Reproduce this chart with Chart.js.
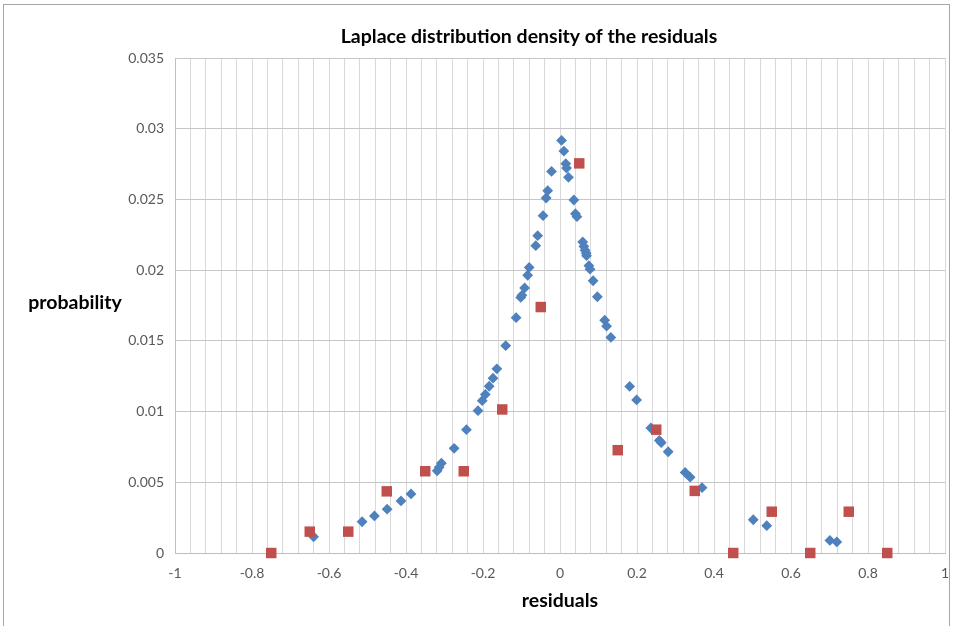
<!DOCTYPE html>
<html><head><meta charset="utf-8">
<script src="https://cdn.jsdelivr.net/npm/chart.js@4"></script>
<style>html,body{margin:0;padding:0;background:#fff;}#wrap{width:953px;height:626px;position:relative;}</style>
</head><body><div id="wrap"><canvas id="c" width="953" height="626"></canvas></div>
<script>
// Blue diamonds: residual values and their Laplace density
const residualX = [-0.640,-0.514,-0.482,-0.449,-0.413,-0.387,-0.319,-0.314,-0.308,-0.275,-0.243,-0.213,-0.202,-0.194,-0.184,-0.174,-0.164,-0.141,-0.114,-0.102,-0.099,-0.092,-0.084,-0.080,-0.063,-0.058,-0.044,-0.036,-0.032,-0.022,0.004,0.010,0.015,0.017,0.022,0.036,0.040,0.044,0.059,0.062,0.065,0.068,0.069,0.075,0.078,0.086,0.097,0.116,0.121,0.132,0.181,0.199,0.236,0.258,0.263,0.281,0.325,0.338,0.369,0.502,0.537,0.701,0.719];
const laplaceY = [0.00115,0.00221,0.00262,0.00310,0.00368,0.00418,0.00581,0.00606,0.00635,0.00740,0.00872,0.01006,0.01077,0.01121,0.01179,0.01236,0.01302,0.01466,0.01664,0.01807,0.01822,0.01874,0.01964,0.02019,0.02173,0.02244,0.02385,0.02510,0.02562,0.02698,0.02917,0.02842,0.02753,0.02722,0.02656,0.02496,0.02399,0.02378,0.02199,0.02168,0.02141,0.02120,0.02102,0.02031,0.02007,0.01925,0.01812,0.01646,0.01604,0.01524,0.01178,0.01082,0.00884,0.00796,0.00780,0.00716,0.00570,0.00536,0.00462,0.00235,0.00193,0.00089,0.00078];
// Red squares: bin centres and empirical density
const binX = [-0.75,-0.65,-0.55,-0.45,-0.35,-0.25,-0.15,-0.05,0.05,0.15,0.25,0.35,0.45,0.55,0.65,0.75,0.85];
const binY = [0,0.00151,0.00151,0.00436,0.00578,0.00578,0.01015,0.01739,0.02755,0.00727,0.00872,0.00439,0,0.00292,0,0.00292,0];
const xMajorLabels = [-1,-0.8,-0.6,-0.4,-0.2,0,0.2,0.4,0.6,0.8,1];
const yTickLabels = [0,0.005,0.01,0.015,0.02,0.025,0.03,0.035];
const chartTitle = 'Laplace distribution density of the residuals';

const FONT = 'Lato, "Open Sans", sans-serif';
const toPts = (xs, ys) => xs.map((x, i) => ({x, y: ys[i]}));

const decor = {
  id: 'decor',
  beforeDraw(chart) {
    const ctx = chart.ctx;
    ctx.save();
    ctx.fillStyle = '#fff';
    ctx.fillRect(0, 0, chart.width, chart.height);
    ctx.strokeStyle = '#a6a6a6';
    ctx.lineWidth = 1;
    ctx.strokeRect(3.5, 4.5, 946, 700);
    ctx.restore();
  },
  afterDraw(chart) {
    const ctx = chart.ctx;
    const a = chart.chartArea;
    ctx.save();
    ctx.fillStyle = '#000';
    ctx.textAlign = 'center';
    ctx.textBaseline = 'middle';
    ctx.font = 'bold 19.5px ' + FONT;
    ctx.fillText(chartTitle, 529, 37);
    ctx.fillText('probability', 75, (a.top + a.bottom) / 2 - 3);
    ctx.restore();
  }
};

new Chart(document.getElementById('c'), {
  type: 'scatter',
  data: {
    datasets: [
      { label: 'empirical', data: toPts(binX, binY), pointStyle: 'rect', pointRadius: 7.4, pointHoverRadius: 7.4,
        backgroundColor: '#C0504D', borderWidth: 0, clip: false },
      { label: 'Laplace', data: toPts(residualX, laplaceY), pointStyle: 'rectRot', pointRadius: 5.4, pointHoverRadius: 5.4,
        backgroundColor: '#4F81BD', borderWidth: 0, clip: false }
    ]
  },
  options: {
    responsive: false,
    animation: false,
    devicePixelRatio: 1,
    layout: { padding: { left: 0, right: 8, top: 58, bottom: 0 } },
    plugins: {
      legend: { display: false },
      tooltip: { enabled: false },
      title: { display: false }
    },
    scales: {
      x: {
        type: 'linear', min: -1, max: 1,
        afterFit(s) { s.height = 73; },
        ticks: { stepSize: 0.04, autoSkip: false, maxRotation: 0, padding: 2, color: '#595959',
          font: { family: FONT, size: 14 },
          callback(v) {
            const hit = xMajorLabels.find(m => Math.abs(m - v) < 1e-6);
            return hit === undefined ? '' : String(hit);
          } },
        grid: { color: '#d9d9d9', drawTicks: true, tickLength: 10, tickColor: 'rgba(0,0,0,0)', lineWidth: 1 },
        border: { color: '#bfbfbf' },
        title: { display: true, text: 'residuals', color: '#000', font: { family: FONT, size: 19.5, weight: 'bold', lineHeight: 1.2 },
          padding: { top: 0, bottom: 14 } }
      },
      y: {
        type: 'linear', min: 0, max: 0.035,
        afterFit(s) { s.width = 175; },
        ticks: { stepSize: 0.005, padding: 11, color: '#595959', font: { family: FONT, size: 14 },
          callback(v) {
            const hit = yTickLabels.find(m => Math.abs(m - v) < 1e-9);
            return hit === undefined ? '' : String(hit);
          } },
        grid: { color: '#c6c6c6', drawTicks: false, lineWidth: 1 },
        border: { color: '#bfbfbf' }
      }
    }
  },
  plugins: [decor]
});
</script></body></html>
